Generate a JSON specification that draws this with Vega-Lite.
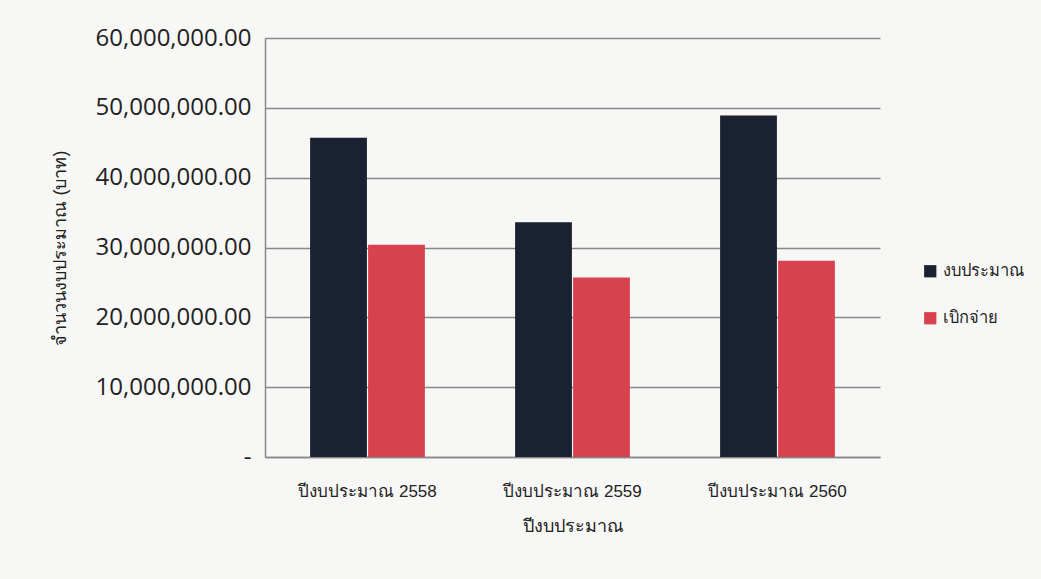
{
  "$schema": "https://vega.github.io/schema/vega-lite/v6.json",
  "autosize": {"type": "none"},
  "width": 615,
  "height": 419,
  "padding": {"left": 265, "top": 38, "right": 161, "bottom": 122},
  "background": "#f7f7f5",
  "data": {"values": [
    {"year": "ปีงบประมาณ 2558", "type": "งบประมาณ", "amount": 45700000},
    {"year": "ปีงบประมาณ 2558", "type": "เบิกจ่าย", "amount": 30400000},
    {"year": "ปีงบประมาณ 2559", "type": "งบประมาณ", "amount": 33600000},
    {"year": "ปีงบประมาณ 2559", "type": "เบิกจ่าย", "amount": 25700000},
    {"year": "ปีงบประมาณ 2560", "type": "งบประมาณ", "amount": 48900000},
    {"year": "ปีงบประมาณ 2560", "type": "เบิกจ่าย", "amount": 28100000}
  ]},
  "config": {"view": {"stroke": null}, "font": "Liberation Sans"},
  "mark": {"type": "bar"},
  "encoding": {
    "x": {
      "field": "year", "type": "nominal",
      "scale": {"paddingInner": 0.44, "paddingOuter": 0.22},
      "axis": {
        "title": "ปีงบประมาณ", "labelAngle": 0, "labelFontSize": 17, "labelColor": "#222",
        "titleFontSize": 18, "titleFontWeight": "normal", "titleColor": "#222", "titlePadding": 18,
        "ticks": false, "labelPadding": 26, "domainColor": "#888", "domainWidth": 1.5
      }
    },
    "xOffset": {"field": "type", "type": "nominal", "scale": {"paddingInner": 0.02}},
    "y": {
      "field": "amount", "type": "quantitative",
      "scale": {"domain": [0, 60000000]},
      "axis": {
        "title": "จำนวนงบประมาณ (บาท)", "titleFontSize": 18, "titleFontWeight": "normal", "titleColor": "#222",
        "titlePadding": 26,
        "values": [0, 10000000, 20000000, 30000000, 40000000, 50000000, 60000000],
        "labelOverlap": false,
        "labelExpr": "datum.value == 0 ? '-\u00a0\u00a0\u00a0\u00a0' : format(datum.value, ',.2f')",
        "labelFont": "Open Sans", "labelFontSize": 24, "labelColor": "#222", "labelPadding": 14,
        "ticks": false, "domainColor": "#888", "domainWidth": 1.5,
        "gridColor": "#888", "gridWidth": 1.3
      }
    },
    "color": {
      "field": "type", "type": "nominal",
      "scale": {"domain": ["งบประมาณ", "เบิกจ่าย"], "range": ["#1a2130", "#d8424e"]},
      "legend": {
        "title": null, "orient": "none", "legendX": 657, "legendY": 225,
        "symbolType": "square", "symbolSize": 150, "labelFontSize": 16.5, "labelColor": "#222",
        "rowPadding": 30, "symbolStrokeWidth": 0
      }
    }
  }
}
